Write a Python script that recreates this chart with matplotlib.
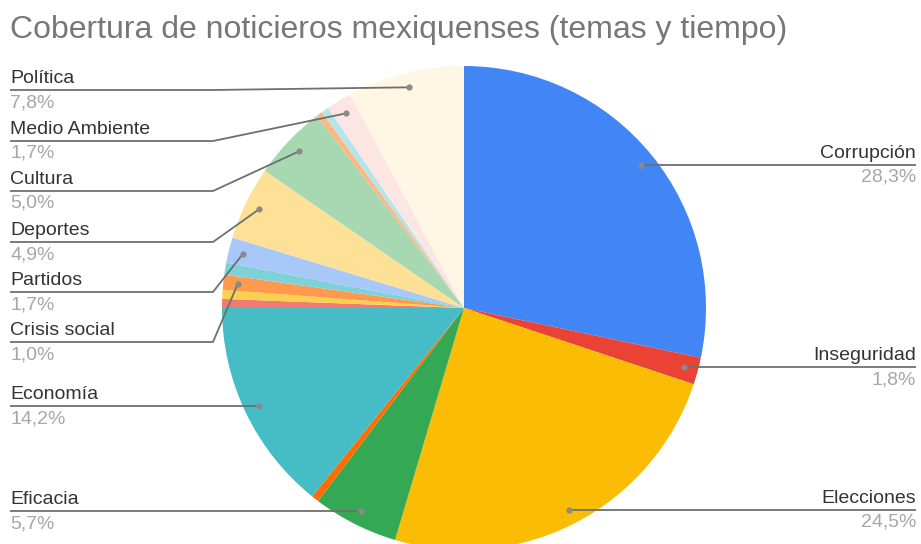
import numpy as np
import matplotlib.pyplot as plt

plt.rcParams['font.family'] = ['Liberation Sans', 'DejaVu Sans']

# temas en orden horario desde las 12; '' = rebanada sin etiqueta
temas = ['Corrupción', 'Inseguridad', 'Elecciones', 'Eficacia', '',
         'Economía', '', '', 'Crisis social', '', 'Partidos', 'Deportes',
         'Cultura', '', '', 'Medio Ambiente', 'Política']
porcentajes = [28.3, 1.8, 24.5, 5.7, 0.5, 14.2, 0.6, 0.6, 1.0, 0.8, 1.7,
               4.9, 5.0, 0.4, 0.5, 1.7, 7.8]
etiquetas_pct = ['28,3%', '1,8%', '24,5%', '5,7%', '', '14,2%', '', '',
                 '1,0%', '', '1,7%', '4,9%', '5,0%', '', '', '1,7%', '7,8%']
colores = ['#4285F4', '#EA4335', '#FBBC04', '#34A853', '#FF6D01', '#46BDC6',
           '#F07B72', '#FCD04F', '#FF994D', '#7ED1D7', '#A9C8FA', '#FDE196',
           '#A8D8B2', '#FFB67F', '#B5E5E8', '#FCE6E4', '#FFF6E4']

W, H = 921, 544
fig = plt.figure(figsize=(W / 100, H / 100), dpi=100)
ax = fig.add_axes([0, 0, 1, 1])

def Y(py):
    # coordenada en pixeles (desde arriba) -> datos
    return H - py

cx, cy, R = 464, 308, 242
wedges, _ = ax.pie(porcentajes, colors=colores, startangle=90, counterclock=False,
                   center=(cx, Y(cy)), radius=R,
                   wedgeprops=dict(linewidth=0, antialiased=True))

# posicion de la linea de cada etiqueta: (lado, y de la linea, esquina x o None)
posiciones = {
    'Corrupción': ('der', None, None),
    'Inseguridad': ('der', None, None),
    'Elecciones': ('der', None, None),
    'Eficacia': ('izq', None, None),
    'Economía': ('izq', None, None),
    'Crisis social': ('izq', 342, 213),
    'Partidos': ('izq', 292, 213),
    'Deportes': ('izq', 242, 213),
    'Cultura': ('izq', 191, 213),
    'Medio Ambiente': ('izq', 141, 213),
    'Política': ('izq', 90, 213),
}

col_linea = '#6f6f6f'
col_nombre = '#333333'
col_pct = '#a6a6a6'
fs = 14

acum = np.cumsum([0] + porcentajes)
for i, tema in enumerate(temas):
    if not tema:
        continue
    medio = (acum[i] + acum[i + 1]) / 2 / 100 * 2 * np.pi
    r = 0.94 * R
    px = cx + r * np.sin(medio)
    py = cy - r * np.cos(medio)
    lado, ly, esq = posiciones[tema]
    if ly is None:
        ly = py
    if lado == 'der':
        xs, ys = [px, 916], [py, ly]
        xt, ha = 916, 'right'
    else:
        if esq is None:
            xs, ys = [10, px], [ly, py]
        else:
            xs, ys = [10, esq, px], [ly, ly, py]
        xt, ha = 10, 'left'
    ax.plot(xs, [Y(v) for v in ys], color=col_linea, lw=1.3, solid_capstyle='butt')
    ax.plot(px, Y(py), 'o', color='#8a8a8a', ms=4.5, mec='none')
    ax.text(xt, Y(ly - 3), tema, ha=ha, va='bottom', fontsize=fs, color=col_nombre)
    ax.text(xt, Y(ly + 4), etiquetas_pct[i], ha=ha, va='top', fontsize=fs, color=col_pct)

ax.text(10, Y(30), 'Cobertura de noticieros mexiquenses (temas y tiempo)',
        ha='left', va='center', fontsize=23, color='#777777')

ax.set_xlim(0, W)
ax.set_ylim(0, H)
ax.set_aspect('auto')
ax.axis('off')

fig.savefig('out.png', dpi=100, facecolor='white')
